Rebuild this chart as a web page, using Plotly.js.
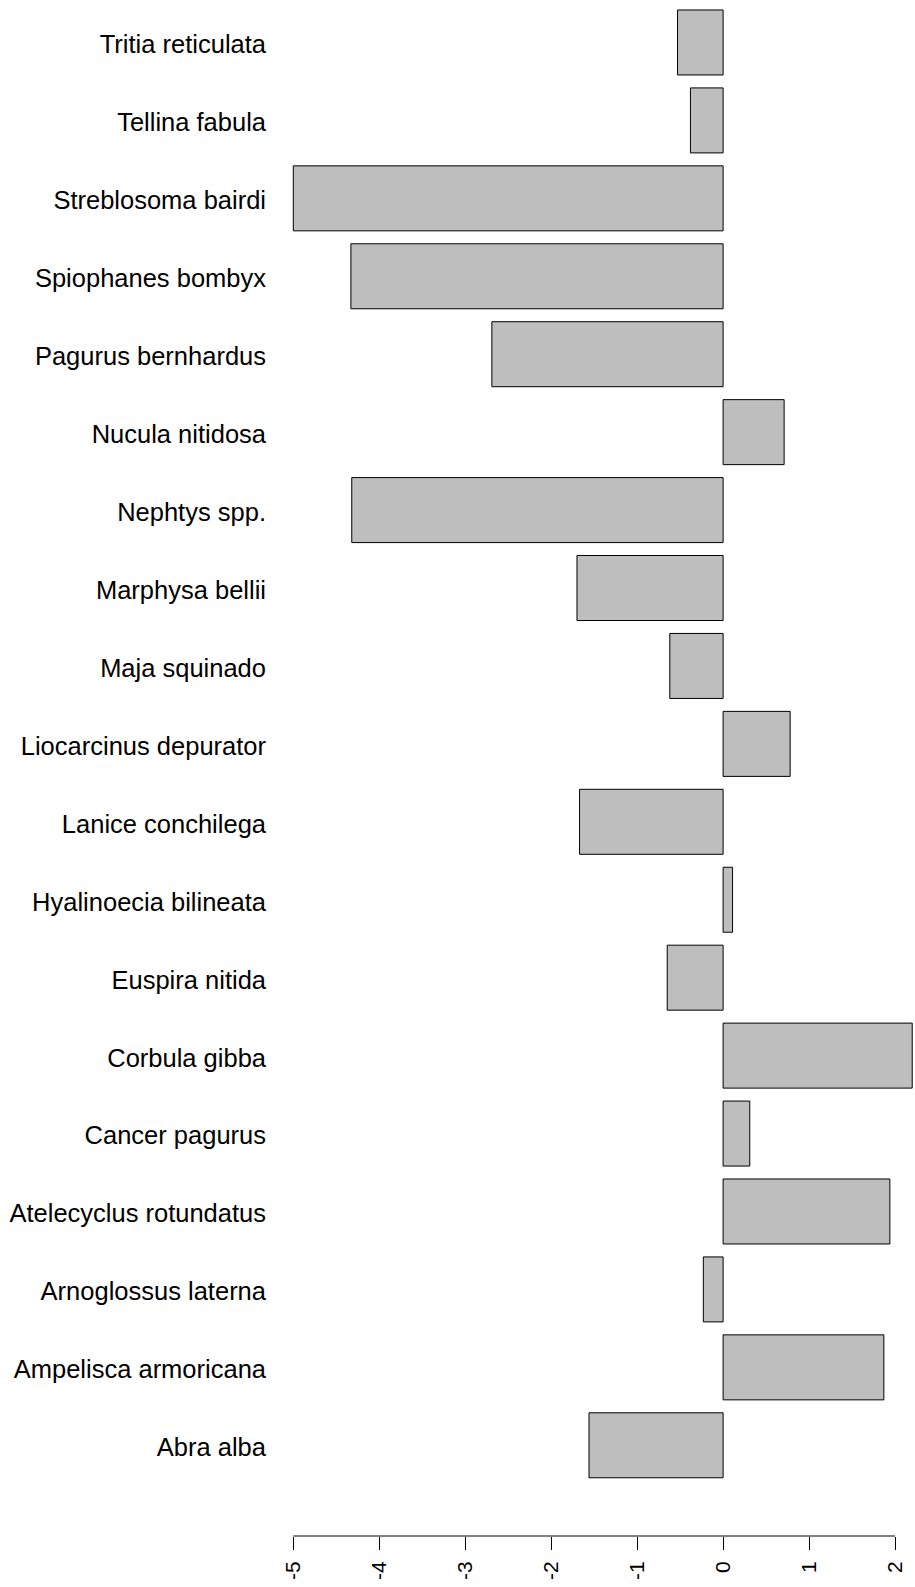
<!DOCTYPE html>
<html>
<head>
<meta charset="utf-8">
<script src="https://cdn.plot.ly/plotly-3.0.1.min.js"></script>
<style>
  html, body { margin: 0; padding: 0; background: #ffffff; }
  #chart { width: 915px; height: 1587px; }
</style>
</head>
<body>
<div id="chart"></div>
<script>
// Species (bottom to top, as drawn)
const species = [
  "Abra alba",
  "Ampelisca armoricana",
  "Arnoglossus laterna",
  "Atelecyclus rotundatus",
  "Cancer pagurus",
  "Corbula gibba",
  "Euspira nitida",
  "Hyalinoecia bilineata",
  "Lanice conchilega",
  "Liocarcinus depurator",
  "Maja squinado",
  "Marphysa bellii",
  "Nephtys spp.",
  "Nucula nitidosa",
  "Pagurus bernhardus",
  "Spiophanes bombyx",
  "Streblosoma bairdi",
  "Tellina fabula",
  "Tritia reticulata"
];

const values = [
  -1.56,
  1.87,
  -0.23,
  1.94,
  0.31,
  2.20,
  -0.65,
  0.11,
  -1.67,
  0.78,
  -0.62,
  -1.70,
  -4.32,
  0.71,
  -2.69,
  -4.33,
  -5.00,
  -0.38,
  -0.53
];

const xTicks = [-5, -4, -3, -2, -1, 0, 1, 2];

const trace = {
  type: "bar",
  orientation: "h",
  x: values,
  y: species,
  marker: { color: "#bebebe", line: { color: "#000000", width: 1 } },
  hoverinfo: "x+y"
};

const layout = {
  width: 915,
  height: 1587,
  margin: { l: 276, r: 0, t: 0, b: 51 },
  paper_bgcolor: "#ffffff",
  plot_bgcolor: "#ffffff",
  showlegend: false,
  bargap: 0.166,
  font: { family: "Liberation Sans, Arial, sans-serif", color: "#000000" },
  xaxis: {
    range: [-5 - (293.3 - 276) / 85.96, -5 + (915 - 293.3) / 85.96],
    tickvals: xTicks,
    ticktext: xTicks.map(String),
    tickangle: -90,
    ticks: "outside",
    ticklen: 13,
    tickwidth: 1,
    tickcolor: "#000000",
    showline: false,
    showgrid: false,
    zeroline: false,
    tickfont: { size: 21, color: "#000000" },
    ticklabelstandoff: 3
  },
  yaxis: {
    type: "category",
    range: [-1.164, 18.545],
    showline: false,
    showgrid: false,
    zeroline: false,
    ticks: "",
    tickfont: { size: 25.5, color: "#000000" },
    ticklabelstandoff: 9,
    ticklabelshift: 2,
    automargin: false
  },
  shapes: [
    {
      type: "line",
      xref: "x",
      yref: "paper",
      x0: xTicks[0],
      x1: xTicks[xTicks.length - 1],
      y0: 0,
      y1: 0,
      line: { color: "#000000", width: 1 }
    }
  ]
};

Plotly.newPlot("chart", [trace], layout, { staticPlot: true, displayModeBar: false });
</script>
</body>
</html>
